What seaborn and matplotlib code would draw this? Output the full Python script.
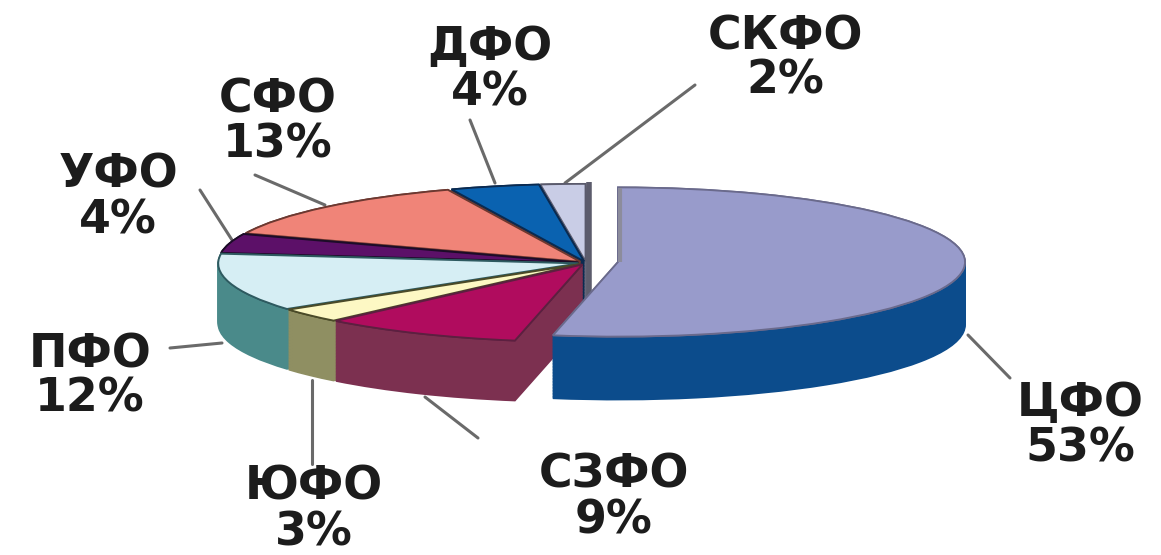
import matplotlib
matplotlib.use("Agg")
import matplotlib.pyplot as plt
import seaborn as sns

districts = ["ЦФО", "СЗФО", "ЮФО", "ПФО", "УФО", "СФО", "ДФО", "СКФО"]
shares = [53, 9, 3, 12, 4, 13, 4, 2]

top_colors = ["#989bcb", "#b00c5e", "#fdf8c4", "#d6eef4", "#5c1068", "#f08478", "#0a62b0", "#c9cde6"]
side_colors = ["#0c4c8c", "#7c3050", "#8f8f62", "#4a8a8a", "#1c0c28", "#7c4038", "#0a2a50", "#66667a"]
edge_colors = ["#6a6a8c", "#5c2040", "#4a4a28", "#2e5a60", "#1c0c28", "#6c3830", "#0a2a50", "#5a5a6c"]
line_color = "#6a6a6a"

label_xy = {
    "ЦФО": (1080, 426), "СЗФО": (614, 498), "ЮФО": (314, 510), "ПФО": (90, 377),
    "УФО": (118, 198), "СФО": (278, 122), "ДФО": (490, 70), "СКФО": (785, 59),
}
leaders = [
    ((968, 335), (1010, 378)), ((425, 397), (478, 438)), ((312, 380), (312, 464)),
    ((222, 343), (170, 348)), ((200, 190), (232, 240)), ((255, 175), (325, 205)),
    ((470, 120), (495, 183)), ((695, 85), (565, 183)),
]

W, H = 1161, 555
SQUASH = 0.215
sns.set_theme(style="white")
plt.rcParams["font.family"] = ["DejaVu Sans"]

fig = plt.figure(figsize=(W / 100, H / 100), dpi=100)
ax = fig.add_axes([0, 0, 1, 1])


def yu(py):
    return (H - py) / SQUASH


def draw(center, radius, depth, keep, explode):
    cx, cy = center
    for d in [depth - i * 1.5 for i in range(int(depth / 1.5) + 1)] + [0]:
        is_top = d == 0
        wedges, _ = ax.pie(
            shares, startangle=90, counterclock=False, radius=radius,
            center=(cx, yu(cy + d)),
            explode=[explode if i in keep else 0 for i in range(len(shares))],
            colors=top_colors if is_top else side_colors,
        )
        for i, w in enumerate(wedges):
            if i not in keep:
                w.set_visible(False)
                continue
            w.set_edgecolor(edge_colors[i] if is_top else side_colors[i])
            w.set_linewidth(1.3 if is_top else 1.2)
            # back-to-front stacking: slices nearer the viewer sit above
            order = {7: 1, 6: 2, 5: 3, 4: 4, 3: 5, 2: 6, 1: 7, 0: 8}[i]
            w.set_zorder(order * 10 + (5 if is_top else 0))


draw((586, 263), 360, 60, [1, 2, 3, 4, 5, 6, 7], 8)
draw((618, 262), 347, 63, [0], 0)

# dark back wall visible in the gap between the two parts
ax.plot([589, 589], [yu(182), yu(298)], color="#5c5c6c", lw=4, zorder=16, solid_capstyle="butt")
ax.plot([620, 620], [yu(188), yu(262)], color="#8c8c9c", lw=3, zorder=90, solid_capstyle="butt")

for (x0, y0), (x1, y1) in leaders:
    ax.plot([x0, x1], [yu(y0), yu(y1)], color=line_color, lw=2.2, zorder=1)

ax.set_xlim(0, W)
ax.set_ylim(0, H / SQUASH)
ax.set_aspect("auto")
ax.axis("off")

for name, share in zip(districts, shares):
    x, y = label_xy[name]
    ax.text(x, yu(y), f"{name}\n{share}%", ha="center", va="center", ma="center",
            fontsize=33, fontweight="bold", color="#1c1c1c", linespacing=1.0, zorder=100)

sns.despine(ax=ax, left=True, bottom=True)
fig.savefig("out.png", dpi=100)
